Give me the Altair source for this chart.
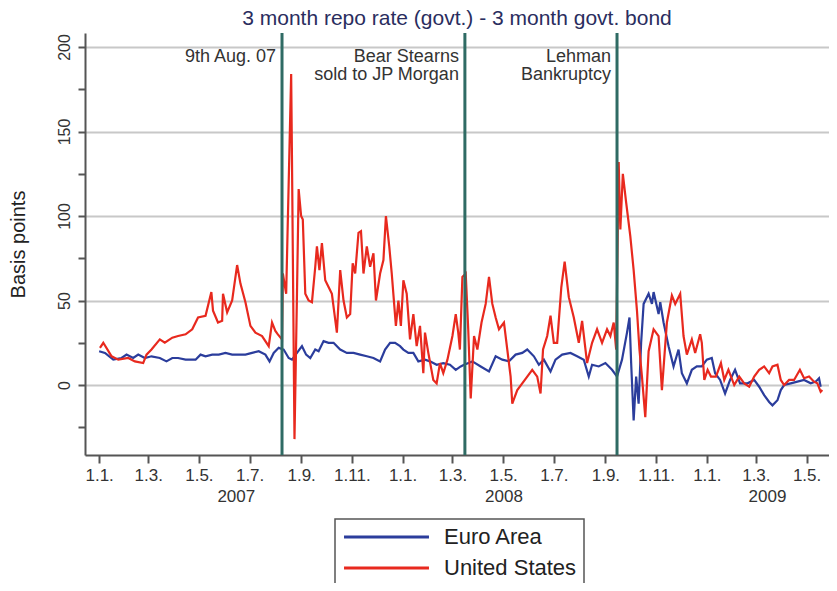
import altair as alt
import pandas as pd

series_names = ["Euro Area", "United States"]
series_colors = ["#2b3d9c", "#e8291e"]

# days since 1 Jan 2007, spread in basis points
ea_day = [0, 7, 17, 27, 33, 41, 47, 55, 63, 73, 81, 88, 95, 104, 116, 122, 128, 136, 144, 152,
          160, 168, 176, 184, 192, 200, 205, 210, 216, 222, 228, 232, 238, 244, 249, 254, 260, 264,
          270, 276, 282, 290, 298, 306, 314, 322, 330, 338, 344, 350, 356, 362, 366, 372, 378, 384,
          392, 398, 406, 414, 422, 429, 435, 439, 449, 459, 469, 477, 485, 493, 501, 509, 515, 523,
          529, 535, 543, 549, 557, 567, 575, 583, 589, 593, 601, 609, 617, 623, 629, 635, 638, 640,
          643, 646, 649, 652, 655, 661, 665, 667, 673, 675, 679, 685, 691, 697, 701, 707, 713, 719,
          725, 731, 737, 741, 747, 753, 759, 765, 771, 780, 788, 794, 800, 806, 810, 816, 820, 824,
          832, 840, 848, 856, 862, 866, 868]
ea_bp = [20, 19, 15, 16, 18, 16, 18, 16, 17, 16, 14, 16, 16, 15, 15, 18, 17, 18, 18, 19,
         18, 18, 18, 19, 20, 18, 14, 19, 22, 21, 16, 15, 19, 23, 18, 16, 21, 20,
         26, 25, 25, 21, 19, 19, 18, 17, 16, 14, 21, 25, 25, 23, 21, 19, 19, 14,
         15, 14, 12, 13, 12, 9, 11, 12, 14, 11, 8, 17, 15, 14, 18, 19, 21, 17,
         12, 15, 8, 15, 18, 19, 17, 15, 5, 12, 11, 13, 9, 5, 15, 31, 40, 13,
         -21, 5, -11, 25, 48, 54, 48, 55, 42, 49, 37, 23, 11, 21, 7, 1, 9, 11,
         11, 15, 16, 7, 3, -5, 3, 9, 1, 1, 3, -1, -6, -10, -12, -9, -3, 0,
         1, 2, 3, 1, 2, 4, -1]

us_day = [1, 5, 15, 23, 35, 43, 53, 57, 63, 73, 79, 88, 95, 104, 112, 119, 128, 135, 137, 143,
          148, 149, 154, 160, 166, 170, 176, 182, 188, 196, 204, 208, 212, 215, 220, 221, 225, 231,
          232, 235, 238, 240, 243, 245, 248, 252, 256, 260, 262, 265, 268, 272, 276, 280, 286, 290,
          294, 298, 302, 305, 308, 312, 315, 318, 322, 326, 330, 333, 338, 342, 345, 349, 352, 357,
          360, 363, 366, 370, 374, 378, 382, 386, 390, 392, 396, 402, 406, 410, 414, 419, 425, 429,
          432, 434, 437, 441, 444, 447, 451, 455, 460, 465, 469, 473, 477, 481, 487, 491, 495, 497,
          503, 509, 515, 521, 527, 531, 534, 539, 543, 547, 551, 556, 560, 565, 571, 577, 581, 587,
          593, 599, 605, 611, 615, 619, 622, 625, 627, 630, 634, 639, 643, 647, 650, 653, 657, 661,
          667, 673, 677, 683, 689, 693, 699, 703, 707, 713, 717, 723, 725, 728, 732, 736, 742, 748,
          752, 757, 764, 770, 776, 782, 788, 794, 800, 806, 810, 816, 820, 824, 830, 836, 843, 848,
          854, 860, 864, 868, 870]
us_bp = [22, 25, 17, 15, 16, 14, 13, 18, 21, 27, 25, 28, 29, 30, 33, 40, 41, 55, 44, 37,
         38, 54, 43, 50, 71, 60, 49, 35, 31, 29, 23, 37, 32, 30, 27, 66, 54, 184,
         133, -32, 54, 116, 100, 98, 54, 50, 49, 70, 82, 68, 84, 62, 58, 54, 31, 68,
         50, 40, 42, 72, 66, 90, 91, 66, 82, 70, 78, 50, 66, 74, 100, 82, 66, 35,
         50, 35, 62, 54, 27, 42, 23, 35, 7, 31, 19, 3, 1, 13, 7, 15, 29, 42,
         31, 21, 64, 66, 33, -8, 29, 21, 37, 48, 64, 48, 40, 33, 37, 21, 5, -11,
         -3, 1, 5, 9, 5, -5, 21, 29, 41, 25, 25, 58, 73, 52, 40, 25, 38, 13,
         25, 33, 25, 33, 29, 37, 21, 132, 92, 125, 108, 88, 68, 44, 21, 5, -19, 20,
         33, 29, -3, 37, 53, 48, 54, 29, 18, 27, 19, 30, 25, 3, 9, 5, 5, 13,
         3, 9, 0, 5, 1, -1, 5, 9, 11, 7, 11, 12, 3, 0, 3, 3, 9, 4,
         5, 2, 1, -4, -3]

event_dates = ["2007-08-09", "2008-03-16", "2008-09-15"]
event_labels = ["9th Aug. 07", "Bear Stearns\nsold to JP Morgan", "Lehman\nBankruptcy"]

year_labels = ["2007", "2008", "2009"]
year_label_dates = ["2007-06-15", "2008-05-02", "2009-03-15"]

y_tick_values = [-25, 0, 25, 50, 75, 100, 125, 150, 175, 200]
x_tick_months = [(2007, 1), (2007, 3), (2007, 5), (2007, 7), (2007, 9), (2007, 11),
                 (2008, 1), (2008, 3), (2008, 5), (2008, 7), (2008, 9), (2008, 11),
                 (2009, 1), (2009, 3), (2009, 5)]

base = pd.Timestamp("2007-01-01")
def to_dates(days):
    return [base + pd.Timedelta(days=d) for d in days]

df = pd.concat([
    pd.DataFrame({"date": to_dates(ea_day), "bp": ea_bp, "series": series_names[0]}),
    pd.DataFrame({"date": to_dates(us_day), "bp": us_bp, "series": series_names[1]}),
])
events = pd.DataFrame({"date": pd.to_datetime(event_dates), "label": event_labels})
years = pd.DataFrame({"date": pd.to_datetime(year_label_dates), "label": year_labels})

FONT = "Liberation Sans"
x_scale = alt.Scale(domain=[alt.DateTime(year=2006, month=12, date=15),
                            alt.DateTime(year=2009, month=5, date=28)], nice=False)
y_scale = alt.Scale(domain=[-41.4, 208.3], nice=False, zero=False)

x_axis = alt.Axis(values=[alt.DateTime(year=y, month=m, date=1) for y, m in x_tick_months],
                  format="%-d.%-m.", title=None, grid=False, labelFontSize=17,
                  labelColor="#333333", tickSize=8, tickWidth=2, tickColor="#555555",
                  domainColor="#555555", domainWidth=2, labelPadding=4,
                  labelFlush=False, labelOverlap=False)
y_axis = alt.Axis(values=y_tick_values,
                  labelExpr="datum.value % 50 === 0 ? datum.label : ''",
                  gridOpacity={"condition": {"test": "datum.value % 50 === 0", "value": 1}, "value": 0},
                  grid=True, gridColor="#c8c8c8", gridWidth=2,
                  labelAngle=270, labelAlign="center", labelBaseline="bottom",
                  labelFontSize=16, labelColor="#333333", labelPadding=6,
                  tickSize=7, tickWidth=2, tickColor="#555555",
                  domainColor="#555555", domainWidth=2, labelOverlap=False,
                  title="Basis points", titleFontSize=20, titleFontWeight="normal",
                  titleColor="#222222", titleAngle=270, titleX=-57, titleY=211,
                  titleAlign="center", titleBaseline="bottom")

lines = alt.Chart(df).mark_line(strokeWidth=2.2).encode(
    x=alt.X("date:T", scale=x_scale, axis=x_axis),
    y=alt.Y("bp:Q", scale=y_scale, axis=y_axis),
    color=alt.Color("series:N", scale=alt.Scale(domain=series_names, range=series_colors),
                    sort=series_names,
                    legend=alt.Legend(title=None, orient="none", legendX=250, legendY=486,
                                      symbolType="M-4.72,0H4.72", symbolSize=324,
                                      symbolStrokeWidth=3, symbolOffset=33.5,
                                      labelOffset=46.5, labelFontSize=22, labelColor="#222222",
                                      strokeColor="#555555", fillColor="white",
                                      padding=7, rowPadding=9)),
    detail="series:N",
)

rules = alt.Chart(events).mark_rule(color="#2f6b64", strokeWidth=3).encode(x="date:T")

notes = alt.Chart(events).mark_text(align="right", baseline="top", dx=-6, fontSize=18,
                                    lineHeight=18, color="#333333", lineBreak="\n",
                                    font=FONT).encode(
    x="date:T", y=alt.value(15), text="label:N")

year_text = alt.Chart(years).mark_text(fontSize=17, color="#333333", baseline="middle",
                                       font=FONT).encode(
    x="date:T", y=alt.value(464), text="label:N")

chart = alt.layer(lines, rules, notes, year_text).properties(
    width=744, height=422,
    title=alt.Title("3 month repo rate (govt.) - 3 month govt. bond", fontSize=21,
                    color="#2a2d5e", fontWeight="normal", anchor="middle", offset=3, font=FONT),
    autosize=alt.AutoSizeParams(type="none"),
    padding={"left": 77, "top": 25, "right": 0, "bottom": 128},
).configure(font=FONT).configure_view(stroke=None).configure_legend(strokeWidth=1.5)

chart.save("out.html", embed_options={"renderer": "svg", "actions": False})
